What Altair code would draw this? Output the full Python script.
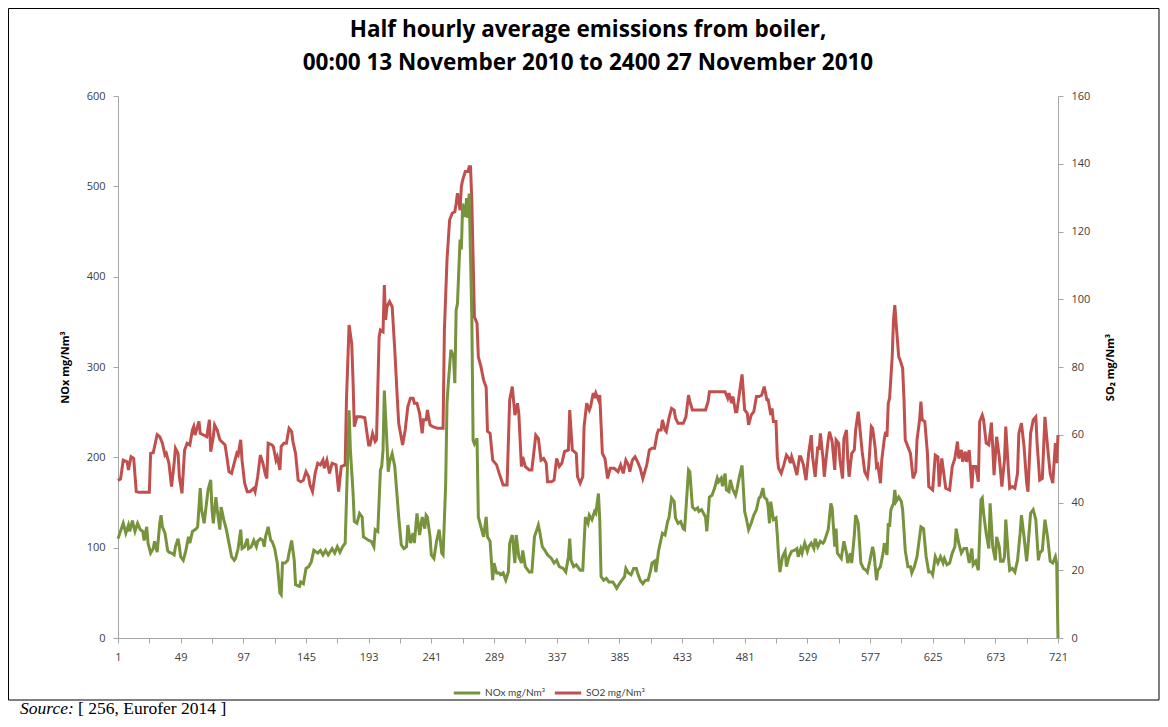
import altair as alt
import pandas as pd

TITLE_LINE1 = ["Half hourly average emissions from boiler,"]
TITLE_LINE2 = ["00:00 13 November 2010 to 2400 27 November 2010"]
NOX_NAME = "NOx mg/Nm³"
SO2_NAME = "SO2 mg/Nm³"
LEFT_AXIS_TITLE = "NOx mg/Nm³"
RIGHT_AXIS_TITLE = "SO₂ mg/Nm³"
SOURCE_ITALIC = ["Source:"]
SOURCE_TEXT = ["[ 256, Eurofer 2014 ]"]
X_TICKS = list(range(1, 722, 24))

# (half-hour index, NOx mg/Nm3)
NOX_POINTS = [(1,110),(5,127),(7,116),(9,125),(10,118),(12,130),(14,118),(16,127),(18,120),(20,118),(21,108),(23,123),(24,105),(26,94),(28,99),(29,107),(31,95),(33,127),(34,136),(35,123),(37,116),(39,97),(40,95),(42,94),(44,92),(45,101),(47,110),(48,101),(49,90),(51,86),(53,97),(55,112),(56,105),(58,118),(61,121),(62,123),(64,166),(65,142),(67,127),(68,140),(70,164),(72,175),(73,142),(74,127),(76,156),(77,142),(79,120),(80,145),(82,131),(84,120),(86,105),(88,90),(90,86),(91,88),(93,99),(95,120),(96,99),(98,101),(100,110),(101,99),(103,101),(105,108),(107,101),(108,107),(110,110),(112,108),(113,101),(114,112),(116,123),(118,108),(119,107),(121,99),(123,83),(125,50),(126,48),(127,83),(129,83),(131,86),(132,94),(134,108),(136,86),(137,59),(140,57),(141,62),(143,60),(145,77),(147,79),(149,84),(151,97),(154,94),(156,97),(158,92),(160,97),(162,92),(165,99),(167,94),(169,101),(171,95),(173,101),(175,105),(176,153),(178,252),(179,208),(181,162),(182,129),(184,127),(186,138),(188,134),(189,112),(191,110),(193,108),(195,107),(197,101),(198,120),(200,118),(202,186),(203,190),(204,208),(205,274),(207,215),(208,184),(209,195),(211,204),(213,190),(215,153),(216,134),(218,103),(220,99),(222,101),(223,125),(225,105),(227,116),(228,105),(230,138),(232,114),(234,134),(236,121),(237,136),(238,134),(240,112),(241,92),(243,88),(245,107),(247,120),(249,94),(250,92),(252,171),(253,260),(254,282),(256,319),(258,311),(259,282),(260,363),(261,370),(263,441),(264,430),(265,481),(267,466),(268,487),(269,465),(270,492),(272,356),(273,219),(274,215),(276,221),(277,134),(279,123),(281,112),(283,134),(284,112),(286,107),(288,64),(289,83),(291,72),(293,72),(294,70),(296,72),(298,64),(300,73),(301,105),(303,114),(305,83),(306,114),(308,90),(310,83),(311,97),(313,79),(316,73),(318,73),(320,112),(323,125),(324,118),(326,101),(328,97),(330,92),(333,88),(335,83),(337,86),(339,79),(342,77),(344,73),(346,90),(347,110),(348,86),(350,79),(352,81),(355,75),(357,75),(359,134),(361,127),(362,136),(364,131),(366,140),(367,138),(369,160),(370,131),(371,68),(373,64),(375,66),(377,62),(380,62),(381,60),(383,55),(385,60),(387,64),(389,68),(390,77),(392,72),(394,70),(396,77),(398,77),(399,72),(401,64),(403,60),(405,64),(407,64),(409,75),(410,83),(412,85),(413,73),(415,96),(416,103),(418,116),(420,114),(422,129),(423,133),(425,155),(427,151),(428,133),(430,127),(432,129),(434,121),(435,120),(437,164),(438,186),(439,184),(441,145),(443,142),(445,144),(446,140),(448,142),(451,134),(452,118),(454,156),(456,158),(458,166),(460,177),(461,173),(463,177),(464,168),(466,182),(467,164),(469,162),(470,175),(472,164),(474,158),(475,164),(477,179),(479,191),(481,140),(482,134),(484,120),(486,127),(488,136),(490,142),(492,155),(493,156),(495,166),(496,156),(498,153),(499,145),(500,127),(501,151),(503,131),(505,133),(506,114),(507,90),(508,73),(510,90),(512,96),(513,79),(515,90),(517,96),(519,97),(521,99),(522,90),(524,99),(525,94),(527,105),(529,96),(530,101),(532,105),(534,99),(535,110),(537,101),(539,107),(541,105),(542,107),(545,120),(547,149),(548,144),(550,101),(551,121),(552,94),(554,90),(555,88),(557,107),(559,94),(560,83),(562,94),(563,83),(565,114),(566,136),(568,127),(570,83),(572,77),(574,75),(575,73),(577,86),(579,101),(580,94),(582,64),(583,75),(585,79),(587,94),(588,105),(590,92),(591,127),(592,123),(593,142),(595,149),(596,164),(597,151),(599,156),(601,151),(602,142),(603,120),(604,97),(606,79),(608,79),(609,72),(611,79),(613,90),(615,112),(616,123),(618,121),(620,90),(622,73),(624,73),(625,70),(627,90),(629,83),(631,90),(633,83),(634,88),(636,81),(638,83),(640,94),(642,101),(643,121),(645,105),(647,94),(649,99),(651,99),(653,83),(655,99),(656,81),(658,85),(660,75),(662,153),(663,155),(664,138),(666,116),(668,99),(669,149),(671,101),(673,86),(674,112),(676,101),(677,85),(679,85),(680,90),(681,131),(683,90),(684,75),(686,77),(688,73),(690,86),(692,116),(693,136),(695,112),(697,85),(698,101),(700,138),(702,142),(704,131),(706,86),(707,94),(709,97),(711,131),(713,112),(715,85),(717,83),(719,90),(720,82),(721,0)]

# (half-hour index, SO2 mg/Nm3)
SO2_POINTS = [(1,46.5),(3,47),(5,52.5),(8,52),(9,49.6),(11,53.5),(13,53),(15,43.2),(17,43),(25,43),(26,54.5),(28,54.7),(31,60),(33,59.4),(35,57.5),(37,54),(38,54.5),(40,51.6),(42,44.7),(44,51.6),(45,56),(47,54.5),(48,47.6),(50,42.7),(52,55.5),(54,57.5),(56,57),(58,61.4),(59,62.4),(60,59.9),(63,63.9),(64,60.4),(69,59.4),(71,64.4),(72,55),(74,59.4),(75,62.9),(77,61.4),(79,58.5),(83,57),(84,54.5),(86,49.1),(88,48.6),(90,51.6),(92,54.5),(93,54),(95,58.5),(96,52.5),(98,45.7),(100,43.2),(102,43.2),(105,44.2),(106,43.2),(108,47.6),(110,54),(112,51.6),(114,48.1),(115,47.1),(116,57.5),(119,57),(120,56.5),(122,52.5),(123,53.5),(125,49.6),(126,56.5),(128,57.5),(130,57.5),(132,61.9),(134,60.9),(135,58),(137,54.5),(139,46.6),(141,46.1),(143,46.6),(145,49.1),(147,47.6),(148,45.2),(150,43.2),(152,48.6),(154,51.6),(156,51.1),(158,52.5),(159,50.1),(161,52.5),(163,48.6),(165,51.6),(168,51.1),(170,43.2),(172,50.6),(175,51.1),(176,70.3),(178,92.4),(180,87),(181,76.2),(182,62.4),(184,65.3),(187,65.3),(190,65),(191,62.4),(193,57),(194,57),(196,60.4),(198,58),(199,58.5),(201,88.9),(202,90.9),(204,90.4),(205,104.2),(206,93.9),(207,97.8),(209,99.3),(211,97.8),(213,85),(215,70.3),(216,63.4),(219,57),(221,61.4),(223,68.3),(225,70.8),(227,70.8),(228,69.3),(230,69.3),(232,66.3),(234,60.4),(235,64.4),(237,64.4),(238,67.3),(240,62.9),(242,62.4),(246,61.9),(250,61.9),(251,90.9),(253,111.6),(255,123.4),(257,125.4),(259,125.8),(260,128.3),(261,131.3),(263,126.3),(264,133.2),(265,135.2),(267,137.7),(269,137.7),(270,139.1),(271,139.1),(272,129.3),(274,94.8),(276,92.9),(277,83),(279,80.1),(281,76.2),(283,74),(284,61),(286,60.4),(288,52.5),(291,51.1),(293,48.6),(296,45.2),(299,45.2),(301,70.3),(303,74.2),(305,65.8),(307,69.3),(308,66.3),(310,50.6),(311,53.5),(313,50.6),(316,49.6),(318,49.6),(321,59.9),(323,58.9),(325,52.5),(327,53),(329,51.6),(330,46.1),(333,46.1),(335,46.6),(337,53),(339,50.6),(341,51.6),(343,55),(346,55.5),(347,67.3),(349,55.5),(352,54.5),(353,47.6),(355,45.7),(357,47.6),(358,62.4),(360,69.3),(362,67.3),(363,68.3),(365,72.3),(366,70.8),(367,72.3),(369,70.3),(370,71.7),(372,54.5),(374,53),(376,47.1),(378,50.1),(381,50.1),(384,49.1),(386,51.1),(388,48.6),(390,52.5),(392,51.1),(393,49.1),(395,52.5),(397,53.5),(399,52),(401,50.1),(403,47.1),(406,51.1),(408,55.5),(410,56),(412,56),(414,60.4),(415,61.4),(417,61.4),(418,64.4),(420,61.4),(421,60.9),(423,64.9),(425,67.8),(427,67.3),(428,64.9),(430,63.4),(434,63.4),(436,65.3),(438,71.7),(439,69.8),(441,67.3),(451,67.3),(453,69.8),(454,72.7),(466,72.7),(468,70.8),(469,72.3),(471,69.3),(472,71.3),(474,66.8),(475,66.8),(477,72.3),(479,77.8),(481,67.3),(483,66.3),(484,62.9),(486,65.8),(488,66.8),(490,71.3),(492,71.3),(494,71.7),(496,74.2),(498,70.3),(499,70.3),(501,65.8),(502,67.8),(503,63.9),(505,63.9),(506,53.5),(507,50.1),(509,48.6),(511,51.1),(513,54),(515,53),(516,51.6),(517,53.5),(519,51.1),(521,48.1),(523,53.5),(524,53.5),(526,51.1),(528,46.6),(530,54.5),(532,59.9),(533,53.5),(535,47.6),(537,56.5),(538,55.5),(539,60.4),(541,53),(542,47.6),(543,51.6),(545,58.5),(546,60.9),(548,58),(550,49.6),(551,58.5),(553,57.5),(554,52.5),(556,47.1),(557,58.9),(559,61.4),(560,52.5),(561,47.6),(563,54.5),(565,55.5),(566,61.4),(568,66.8),(569,62.9),(571,55),(573,49),(575,47.5),(576,50.6),(578,62.4),(579,61.9),(581,56),(582,50.6),(583,51.1),(585,45.7),(586,52.5),(588,58.9),(589,60.9),(590,59.4),(591,69.3),(592,70.8),(594,83),(595,93.9),(596,98.3),(597,92.9),(599,83),(600,82.1),(602,79.6),(603,70.8),(604,58.5),(606,56.5),(608,54.5),(610,47.1),(612,49.1),(613,58.5),(615,64.4),(616,69.8),(617,64.4),(619,63.9),(621,54.5),(622,44.7),(625,43.7),(627,54),(629,53.5),(630,44.7),(632,53),(633,50.1),(635,44.2),(638,43.7),(640,50.6),(642,53),(644,58),(645,53),(647,55.5),(648,52),(650,55),(651,52),(653,55.5),(655,44.2),(656,50.6),(658,50.6),(660,46.1),(661,63.9),(663,65.8),(664,64.4),(666,57.5),(668,57),(670,63.6),(671,56.5),(672,48.1),(674,59.4),(676,53.5),(678,44.7),(680,52.5),(681,62.4),(683,49.6),(684,44.2),(686,44.7),(688,44.2),(690,48.6),(691,60.4),(693,63.4),(695,56.5),(697,45.7),(698,43.2),(700,60.4),(702,64.4),(704,65.3),(705,57.5),(707,46.6),(709,47.1),(711,65.3),(713,56.5),(715,48.6),(717,45.7),(719,57.5),(720,51.6),(721,59.9)]

SERIES = [NOX_NAME, SO2_NAME]
COLORS = ["#77933C", "#C0504D"]

nox_df = pd.DataFrame(NOX_POINTS, columns=["t", "v"]).assign(series=NOX_NAME)
so2_df = pd.DataFrame(SO2_POINTS, columns=["t", "v"]).assign(series=SO2_NAME)
df = pd.concat([nox_df, so2_df], ignore_index=True)

FONT = "Open Sans"
AX_COLOR = "#A6A6A6"
LBL_COLOR = "#404040"

x_enc = alt.X("t:Q",
              scale=alt.Scale(domain=[1, 721], nice=False, zero=False),
              axis=alt.Axis(values=X_TICKS, grid=False, title=None,
                            labelExpr="(datum.value - 1) % 48 == 0 ? datum.label : ''",
                            labelFont=FONT, labelFontSize=11, labelColor=LBL_COLOR,
                            domainColor=AX_COLOR, tickColor=AX_COLOR, tickSize=5,
                            labelPadding=8, labelFlush=False))

color_enc = alt.Color("series:N",
                      scale=alt.Scale(domain=SERIES, range=COLORS),
                      legend=alt.Legend(orient="none", legendX=334, legendY=582,
                                        direction="horizontal", title=None,
                                        symbolType="stroke", symbolStrokeWidth=3,
                                        symbolSize=700, labelFont="Lato",
                                        labelFontSize=10, labelColor=LBL_COLOR,
                                        columnPadding=2, labelOffset=3,
                                        gridAlign="none"))

base = alt.Chart(df).encode(x=x_enc, color=color_enc)

so2_line = base.transform_filter(alt.datum.series == SO2_NAME).mark_line(strokeWidth=3).encode(
    y=alt.Y("v:Q", scale=alt.Scale(domain=[0, 160], nice=False),
            axis=alt.Axis(orient="right", values=list(range(0, 161, 20)), grid=False,
                          title=RIGHT_AXIS_TITLE, titleAngle=270, titleX=52, titleY=271,
                          titleAlign="center", titleBaseline="middle",
                          titleFont=FONT, titleFontSize=11, titleFontWeight="bold",
                          titleColor="#000000",
                          labelFont=FONT, labelFontSize=11, labelColor=LBL_COLOR,
                          domainColor=AX_COLOR, tickColor=AX_COLOR, tickSize=5,
                          labelPadding=8))
)

nox_line = base.transform_filter(alt.datum.series == NOX_NAME).mark_line(strokeWidth=3).encode(
    y=alt.Y("v:Q", scale=alt.Scale(domain=[0, 600], nice=False),
            axis=alt.Axis(orient="left", values=list(range(0, 601, 100)), grid=False,
                          title=LEFT_AXIS_TITLE, titleAngle=270, titleX=-53, titleY=271,
                          titleAlign="center", titleBaseline="middle",
                          titleFont=FONT, titleFontSize=11, titleFontWeight="bold",
                          titleColor="#000000",
                          labelFont=FONT, labelFontSize=11, labelColor=LBL_COLOR,
                          domainColor=AX_COLOR, tickColor=AX_COLOR, tickSize=5,
                          labelPadding=8))
)

frame = alt.Chart(pd.DataFrame({"k": [0]})).mark_rect(
    fillOpacity=0, stroke="#000000", strokeWidth=1).encode(
    x=alt.value(-109.5), x2=alt.value(1041), y=alt.value(-87.5), y2=alt.value(604))


def text_layer(lines, x, y, **kw):
    return alt.Chart(pd.DataFrame({"text": lines})).mark_text(**kw).encode(
        text="text:N", x=alt.value(x), y=alt.value(y))


title1 = text_layer(TITLE_LINE1, 470, -66, font=FONT, fontSize=22.5, fontWeight="bold",
                    align="center", baseline="middle", color="#000000")
title2 = text_layer(TITLE_LINE2, 470, -33, font=FONT, fontSize=22.5, fontWeight="bold",
                    align="center", baseline="middle", color="#000000")
src1 = text_layer(SOURCE_ITALIC, -98, 618, font="Liberation Serif", fontSize=17.5,
                  fontStyle="italic", align="left", baseline="alphabetic", color="#000000")
src2 = text_layer(SOURCE_TEXT, -40, 618, font="Liberation Serif", fontSize=17.5,
                  align="left", baseline="alphabetic", color="#000000")

chart = alt.layer(so2_line, nox_line, frame, title1, title2, src1, src2).resolve_scale(
    y="independent"
).properties(
    width=940, height=542,
    autosize=alt.AutoSizeParams(type="none"),
    padding={"left": 110, "top": 88, "right": 102, "bottom": 81},
).configure_view(strokeWidth=0)

chart.save("out.html", embed_options={"renderer": "svg", "actions": False})
